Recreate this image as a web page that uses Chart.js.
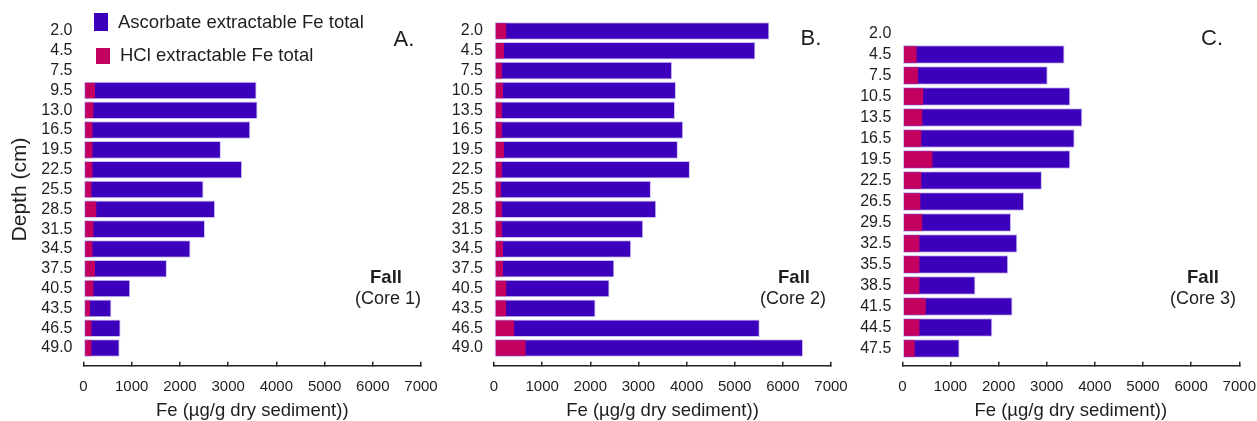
<!DOCTYPE html>
<html><head><meta charset="utf-8">
<script src="https://cdn.jsdelivr.net/npm/chart.js@4.4.1/dist/chart.umd.min.js"></script>
<style>
html,body{margin:0;padding:0;background:#fff;}
#wrap{position:relative;width:1257px;height:421px;overflow:hidden;font-family:"Liberation Sans",Arial,sans-serif;color:#1e1e1e;}
canvas{position:absolute;top:0;}
.t{position:absolute;white-space:nowrap;line-height:1;transform:translate(-50%,-50%);}
.l{position:absolute;white-space:nowrap;line-height:1;transform:translate(0,-50%);}
.sw{position:absolute;}
</style></head><body>
<div id="wrap">
<canvas id="cA" width="445" height="421" style="left:0"></canvas>
<canvas id="cB" width="410" height="421" style="left:445px"></canvas>
<canvas id="cC" width="402" height="421" style="left:855px"></canvas>
<div class="sw" id="swAsc" style="left:94px;top:13px;width:14px;height:18px"></div>
<div class="l" style="left:118px;top:21.7px;font-size:18.5px">Ascorbate extractable Fe total</div>
<div class="sw" id="swHcl" style="left:96px;top:48px;width:14px;height:16px"></div>
<div class="l" style="left:120px;top:55px;font-size:18.5px">HCl extractable Fe total</div>
<div class="t" style="left:404px;top:38.5px;font-size:22px">A.</div>
<div class="t" style="left:811px;top:37.5px;font-size:22px">B.</div>
<div class="t" style="left:1212px;top:37.5px;font-size:22px">C.</div>
<div class="t" style="left:386px;top:277px;font-size:18.5px;font-weight:bold">Fall</div>
<div class="t" style="left:388px;top:298px;font-size:18px">(Core 1)</div>
<div class="t" style="left:794px;top:277px;font-size:18.5px;font-weight:bold">Fall</div>
<div class="t" style="left:793px;top:298px;font-size:18px">(Core 2)</div>
<div class="t" style="left:1203px;top:277px;font-size:18.5px;font-weight:bold">Fall</div>
<div class="t" style="left:1203px;top:298px;font-size:18px">(Core 3)</div>
</div>
<script>
// ---- data (Fe, µg/g dry sediment) ----
const depthsA = ['2.0','4.5','7.5','9.5','13.0','16.5','19.5','22.5','25.5','28.5','31.5','34.5','37.5','40.5','43.5','46.5','49.0'];
const ascorbateA = [null,null,null,3590,3610,3460,2850,3290,2490,2730,2520,2220,1730,970,580,770,750];
const hclA = [null,null,null,240,210,190,190,190,170,270,210,190,240,210,135,170,170];

const depthsB = ['2.0','4.5','7.5','10.5','13.5','16.5','19.5','22.5','25.5','28.5','31.5','34.5','37.5','40.5','43.5','46.5','49.0'];
const ascorbateB = [5720,5430,3700,3780,3760,3930,3820,4070,3260,3370,3100,2850,2500,2400,2110,5520,6420];
const hclB = [260,210,170,190,170,170,210,170,150,170,170,190,190,260,250,420,660];

const depthsC = ['2.0','4.5','7.5','10.5','13.5','16.5','19.5','22.5','26.5','29.5','32.5','35.5','38.5','41.5','44.5','47.5'];
const ascorbateC = [null,3370,3020,3490,3740,3580,3490,2900,2530,2260,2390,2200,1520,2290,1870,1190];
const hclC = [null,300,330,440,420,400,630,400,380,420,360,360,360,490,360,260];

const xTicksMax = 7000, xTickStep = 1000;
const xTitle = 'Fe (µg/g dry sediment))';
const yTitle = 'Depth (cm)';

// ---- styles ----
const BLUE = '#3c00bd', PINK = '#c3005f', EDGE = '#cdc2f2', TXT = '#1e1e1e', AX = '#222222';
const FONT = '"Liberation Sans", Arial, sans-serif';
document.getElementById('swAsc').style.background = BLUE;
document.getElementById('swHcl').style.background = PINK;

const AXIS_Y = 365.7;
function makePanel(id, labels, asc, hcl, o) {
  return new Chart(document.getElementById(id), {
    type: 'bar',
    data: {
      labels: labels,
      datasets: [
        { label: 'Ascorbate extractable Fe total', data: asc, backgroundColor: BLUE, borderColor: EDGE,
          borderWidth: 1, borderSkipped: false, grouped: false, order: 2,
          barPercentage: 0.885, categoryPercentage: 1, yAxisID: 'y' },
        { label: 'HCl extractable Fe total', data: hcl, backgroundColor: PINK, borderColor: EDGE,
          borderWidth: {top: 1, bottom: 1, left: 1, right: 0}, borderSkipped: false, grouped: false, order: 1,
          barPercentage: 0.885, categoryPercentage: 1, yAxisID: 'y' }
      ]
    },
    options: {
      indexAxis: 'y', responsive: false, animation: false, events: [],
      layout: { padding: { left: 0, right: o.padRight, top: o.top, bottom: 0 } },
      plugins: { legend: { display: false }, tooltip: { enabled: false } },
      scales: {
        x: {
          type: 'linear', min: 0, max: xTicksMax, position: 'bottom',
          ticks: { stepSize: xTickStep, padding: 16, color: TXT, font: { size: 15, family: FONT }, maxRotation: 0, autoSkip: false,
                   format: { useGrouping: false } },
          grid: { display: true, drawOnChartArea: false, drawTicks: true, tickLength: -4, color: AX, lineWidth: 1.5, tickWidth: 1.5 },
          border: { display: true, color: AX, width: 1.5 },
          title: { display: true, text: xTitle, color: TXT, font: { size: 18.5, family: FONT }, padding: { top: 0, bottom: -1 } },
          afterFit: s => { s.height = 421 - AXIS_Y; s.paddingLeft = 0; s.paddingRight = 0; }
        },
        y: {
          type: 'category', offset: true, position: 'left', stack: 'v', stackWeight: o.bottom - o.top, weight: 1,
          grid: { display: false, drawTicks: false }, border: { display: false },
          ticks: { color: TXT, font: { size: 16, family: FONT }, padding: 11, autoSkip: false },
          title: o.yTitle ? { display: true, text: yTitle, color: TXT, font: { size: 21, family: FONT }, padding: { top: 7.4, bottom: 0 } } : { display: false },
          afterFit: s => { s.width = o.yWidth; }
        },
        gap: {
          type: 'linear', axis: 'y', display: false, position: 'left', stack: 'v', stackWeight: AXIS_Y - o.bottom, weight: 0
        }
      }
    }
  });
}

makePanel('cA', depthsA, ascorbateA, hclA, { padRight: 24, top: 21.1, bottom: 357.9, yWidth: 83.5, yTitle: true });
makePanel('cB', depthsB, ascorbateB, hclB, { padRight: 24, top: 21.1, bottom: 357.9, yWidth: 49, yTitle: false });
makePanel('cC', depthsC, ascorbateC, hclC, { padRight: 17.7, top: 23, bottom: 359, yWidth: 47.3, yTitle: false });
</script>
</body></html>
